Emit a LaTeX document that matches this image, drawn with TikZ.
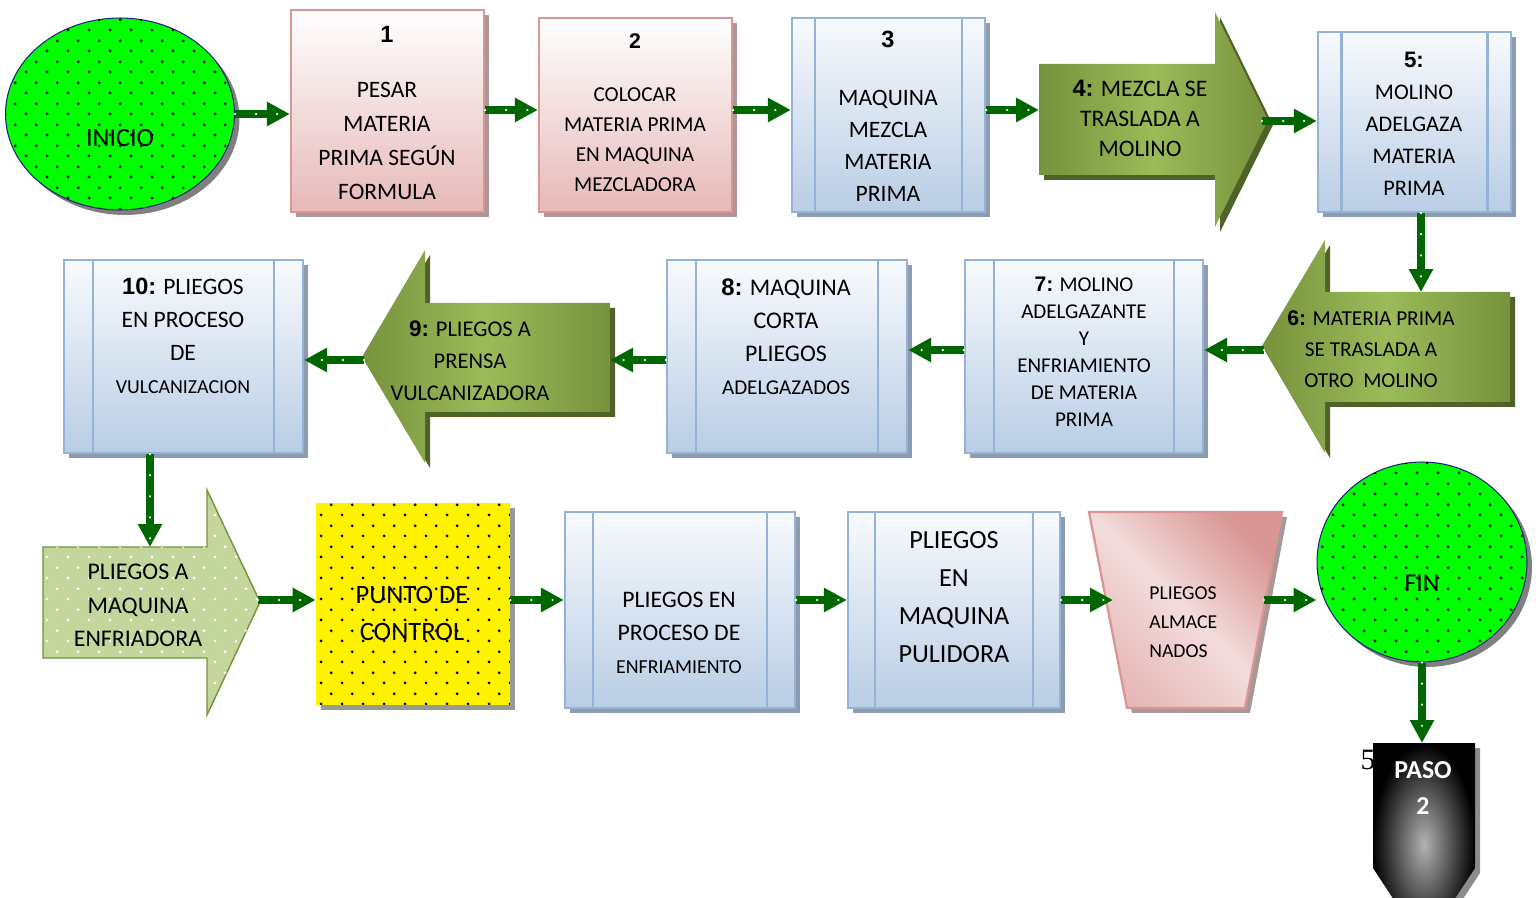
\documentclass[tikz,border=0pt]{standalone}
\usepackage{fontspec}
\setmainfont{Carlito}
\newfontfamily\numf{Liberation Sans}
\newfontfamily\serf{Liberation Serif}
\usepackage{tikz}
\usetikzlibrary{arrows.meta,shapes.geometric,shadows,patterns.meta}

\definecolor{cgreen}{HTML}{006600}
\definecolor{olD}{HTML}{76923C}
\definecolor{olL}{HTML}{9BBB59}
\definecolor{olS}{HTML}{4F6228}
\definecolor{bluT}{HTML}{F8FAFD}
\definecolor{bluB}{HTML}{B9CDE5}
\definecolor{bluL}{HTML}{95B3D7}
\definecolor{bluS}{HTML}{8D9BB0}
\definecolor{pinkB}{HTML}{E6B9B8}
\definecolor{pinkM}{HTML}{F2DCDB}
\definecolor{pinkL}{HTML}{D99694}
\definecolor{pinkS}{HTML}{A89898}
\definecolor{lgF}{HTML}{C3D69B}
\definecolor{brgreen}{HTML}{00FF00}
\definecolor{navyL}{HTML}{202080}

\tikzdeclarepattern{
  name=bigdots,
  type=uncolored,
  bounding box={(0pt,0pt) and (12pt,12pt)},
  tile size={(12pt,12pt)},
  code={
    \pgfpathcircle{\pgfpoint{3pt}{3pt}}{0.9pt}
    \pgfpathcircle{\pgfpoint{9pt}{9pt}}{0.9pt}
    \pgfusepath{fill}
  }
}

\newcommand{\fsz}[2]{\fontsize{#1}{#2}\selectfont}
\newcommand{\nbf}[1]{{\numf\bfseries #1}}

\tikzset{
  conn/.style={draw=cgreen, line width=4.5pt, -{Triangle[length=0.46cm,width=0.46cm]},
    postaction={draw=white, -, line width=1.4pt, dash pattern=on 0pt off 12pt, line cap=round}},
  bluebox/.style={rectangle, inner sep=0pt, draw=bluL, line width=1.3pt, top color=bluT, bottom color=bluB,
    drop shadow={shadow xshift=0.1cm, shadow yshift=-0.1cm, fill=bluS, opacity=1}},
  pinkbox/.style={rectangle, inner sep=0pt, draw=pinkL, line width=1.3pt, top color=white, bottom color=pinkB,
    drop shadow={shadow xshift=0.1cm, shadow yshift=-0.1cm, fill=pinkS, opacity=1}},
  blueline/.style={draw=bluL, line width=1.3pt},
  garrow/.style={left color=olD, right color=olD, middle color=olL,
    drop shadow={shadow xshift=0.1cm, shadow yshift=-0.1cm, fill=olS, opacity=1}},
  lgarrow/.style={fill=lgF, draw=olD, line width=0.8pt, postaction={pattern=bigdots, pattern color=white}},
  startend/.style={ellipse, inner sep=0pt, draw=navyL, line width=0.6pt, fill=brgreen,
    postaction={pattern=bigdots, pattern color=black},
    drop shadow={shadow xshift=0.1cm, shadow yshift=-0.1cm, fill=black!50, opacity=1}},
  dotbox/.style={rectangle, inner sep=0pt, fill=yellow, postaction={pattern=bigdots, pattern color=black},
    drop shadow={shadow xshift=0.1cm, shadow yshift=-0.1cm, fill=black!40, opacity=1}},
  trap/.style={draw=pinkL, line width=1.3pt, top color=pinkL, bottom color=pinkB, middle color=pinkM, shading angle=-45,
    drop shadow={shadow xshift=0.1cm, shadow yshift=-0.1cm, fill=pinkS, opacity=1}},
  paso/.style={shading=radial, inner color=black!30, outer color=black,
    drop shadow={shadow xshift=0.1cm, shadow yshift=-0.1cm, fill=black!45, opacity=1}},
  txt/.style={align=center, inner sep=0pt}
}

\begin{document}
\begin{tikzpicture}[x=0.02cm, y=-0.02cm]
  \useasboundingbox (0,0) rectangle (1536,898);

  % row 1
  \node[startend, minimum width=4.58cm, minimum height=3.84cm] (ini) at (120,114) {};
  \node[txt, font=\fsz{14.9}{18}] (tini) at (120,138) {INICIO};
  \node[pinkbox, minimum width=3.86cm, minimum height=4.04cm] (b1) at (387.5,111) {};
  \node[pinkbox, minimum width=3.86cm, minimum height=3.88cm] (b2) at (635.5,115) {};
  \node[bluebox, minimum width=3.86cm, minimum height=3.88cm] (b3) at (888.5,115) {};
  \path[garrow] (1039,64) -- (1215,64) -- (1215,12) -- (1268,120) -- (1215,227) -- (1215,175) -- (1039,175) -- cycle;
  \coordinate (a4w) at (1039,110);
  \coordinate (a4e) at (1262,121);
  \node[bluebox, minimum width=3.86cm, minimum height=3.6cm] (b5) at (1414.5,122) {};

  % row 2
  \path[garrow] (1262,346) -- (1325,240) -- (1325,292) -- (1510,292) -- (1510,402) -- (1325,402) -- (1325,453) -- cycle;
  \coordinate (a6n) at (1421,292);
  \coordinate (a6t) at (1264,350);
  \node[bluebox, minimum width=4.76cm, minimum height=3.86cm] (b7) at (1084,356.5) {};
  \node[bluebox, minimum width=4.8cm, minimum height=3.86cm] (b8) at (787,356.5) {};
  \path[garrow] (362,357) -- (425,250) -- (425,303) -- (610,303) -- (610,412) -- (425,412) -- (425,463) -- cycle;
  \coordinate (a9e) at (610,360);
  \coordinate (a9t) at (364,360);
  \node[bluebox, minimum width=4.78cm, minimum height=3.86cm] (b10) at (183.5,356.5) {};

  % row 3
  \path[lgarrow] (43,547) -- (207,547) -- (207,490) -- (260,602) -- (207,715) -- (207,658) -- (43,658) -- cycle;
  \coordinate (a11n) at (150,547);
  \coordinate (a11t) at (258,600);
  \node[dotbox, minimum width=3.88cm, minimum height=4.04cm] (pc) at (413,604) {};
  \node[bluebox, minimum width=4.6cm, minimum height=3.92cm] (b12) at (680,610) {};
  \node[bluebox, minimum width=4.24cm, minimum height=3.92cm] (b13) at (954,610) {};
  \path[trap] (1089,512) -- (1282,512) -- (1245,708) -- (1127,708) -- cycle;
  \coordinate (trw) at (1113,600);
  \coordinate (tre) at (1264,600);
  \node[startend, minimum width=4.2cm, minimum height=4cm] (fin) at (1422,562) {};
  \node[txt, font=\fsz{14.6}{18}] (tfin) at (1422,583) {FIN};
  \node[txt, font=\serf\fsz{16.8}{20}] (t5s) at (1368,760) {5};
  \path[paso] (1373,743) -- (1475,743) -- (1475,868) -- (1424,946) -- (1373,868) -- cycle;
  \coordinate (pasotop) at (1422,743);

  % predefined process lines
  \foreach \b/\d in {b3/0.48cm, b5/0.49cm, b7/0.6cm, b8/0.6cm, b10/0.6cm, b12/0.58cm, b13/0.56cm}{
    \draw[blueline] ([xshift=\d]\b.north west) -- ([xshift=\d]\b.south west)
                    ([xshift=-\d]\b.north east) -- ([xshift=-\d]\b.south east);
  }

  % texts
  \node[txt, font=\fsz{13.4}{19.3}] (t1) at (387,113) {\nbf{1}\\[0.42cm]PESAR\\MATERIA\\PRIMA SEGÚN\\FORMULA};
  \node[txt, font=\fsz{12.1}{17}] (t2) at (635,112.5) {\nbf{2}\\[0.46cm]COLOCAR\\MATERIA PRIMA\\EN MAQUINA\\MEZCLADORA};
  \node[txt, font=\fsz{13.4}{18.2}] (t3) at (888,116) {\nbf{3}\\[0.52cm]MAQUINA\\MEZCLA\\MATERIA\\PRIMA};
  \node[txt, font=\fsz{13.5}{17}] (t4) at (1140,118.5) {\nbf{4:} MEZCLA SE\\TRASLADA A\\MOLINO};
  \node[txt, font=\fsz{12.7}{18.2}] (t5) at (1414,123.5) {\nbf{5:}\\MOLINO\\ADELGAZA\\MATERIA\\PRIMA};
  \node[txt, font=\fsz{12.1}{17.6}] (t6) at (1371,349) {\nbf{6:} MATERIA PRIMA\\SE TRASLADA A\\OTRO~~MOLINO};
  \node[txt, font=\fsz{12}{15.4}] (t7) at (1084,352) {\nbf{7:} MOLINO\\ADELGAZANTE\\Y\\ENFRIAMIENTO\\DE MATERIA\\PRIMA};
  \node[txt, font=\fsz{13.6}{18.8}] (t8) at (786,336.5) {\nbf{8:} MAQUINA\\CORTA\\PLIEGOS\\{\fsz{12}{18}ADELGAZADOS}};
  \node[txt, font=\fsz{12.8}{18.2}] (t9) at (470,361) {\nbf{9:} PLIEGOS A\\PRENSA\\VULCANIZADORA};
  \node[txt, font=\fsz{13.4}{18.8}] (t10) at (183,336) {\nbf{10:} PLIEGOS\\EN PROCESO\\DE\\{\fsz{11.3}{18}VULCANIZACION}};
  \node[txt, font=\fsz{13.6}{19}] (t11) at (138,605.5) {PLIEGOS A\\MAQUINA\\ENFRIADORA};
  \node[txt, font=\fsz{15.1}{21}] (tpc) at (412,613.5) {PUNTO DE\\CONTROL};
  \node[txt, font=\fsz{13.5}{18.8}] (t12) at (679,633) {PLIEGOS EN\\PROCESO DE\\{\fsz{11.3}{18}ENFRIAMIENTO}};
  \node[txt, font=\fsz{14.9}{21.6}] (t13) at (954,597.5) {PLIEGOS\\EN\\MAQUINA\\PULIDORA};
  \node[txt, align=left, anchor=west, font=\fsz{11.2}{16.5}] (ttr) at (1149,622) {PLIEGOS\\ALMACE\\NADOS};
  \node[txt, text=white, font=\fsz{14.7}{20.5}\bfseries] (tpaso) at (1423,788) {PASO\\2};

  % connectors
  \draw[conn] (ini.east) -- (b1.west |- ini.east);
  \draw[conn] (b1.east |- 0,110) -- (b2.west |- 0,110);
  \draw[conn] (b2.east |- 0,110) -- (b3.west |- 0,110);
  \draw[conn] (b3.east |- 0,110) -- (a4w);
  \draw[conn] (a4e) -- (b5.west |- a4e);
  \draw[conn] (b5.south -| a6n) -- (a6n);
  \draw[conn] (a6t) -- (b7.east |- a6t);
  \draw[conn] (b7.west |- 0,350) -- (b8.east |- 0,350);
  \draw[conn] (b8.west |- a9e) -- (a9e);
  \draw[conn] (a9t) -- (b10.east |- a9t);
  \draw[conn] (b10.south -| a11n) -- (a11n);
  \draw[conn] (a11t) -- (pc.west |- a11t);
  \draw[conn] (pc.east |- 0,600) -- (b12.west |- 0,600);
  \draw[conn] (b12.east |- 0,600) -- (b13.west |- 0,600);
  \draw[conn] (b13.east |- 0,600) -- (trw);
  \draw[conn] (tre) -- (fin.west |- tre);
  \draw[conn] (fin.south) -- (pasotop);
\end{tikzpicture}
\end{document}
